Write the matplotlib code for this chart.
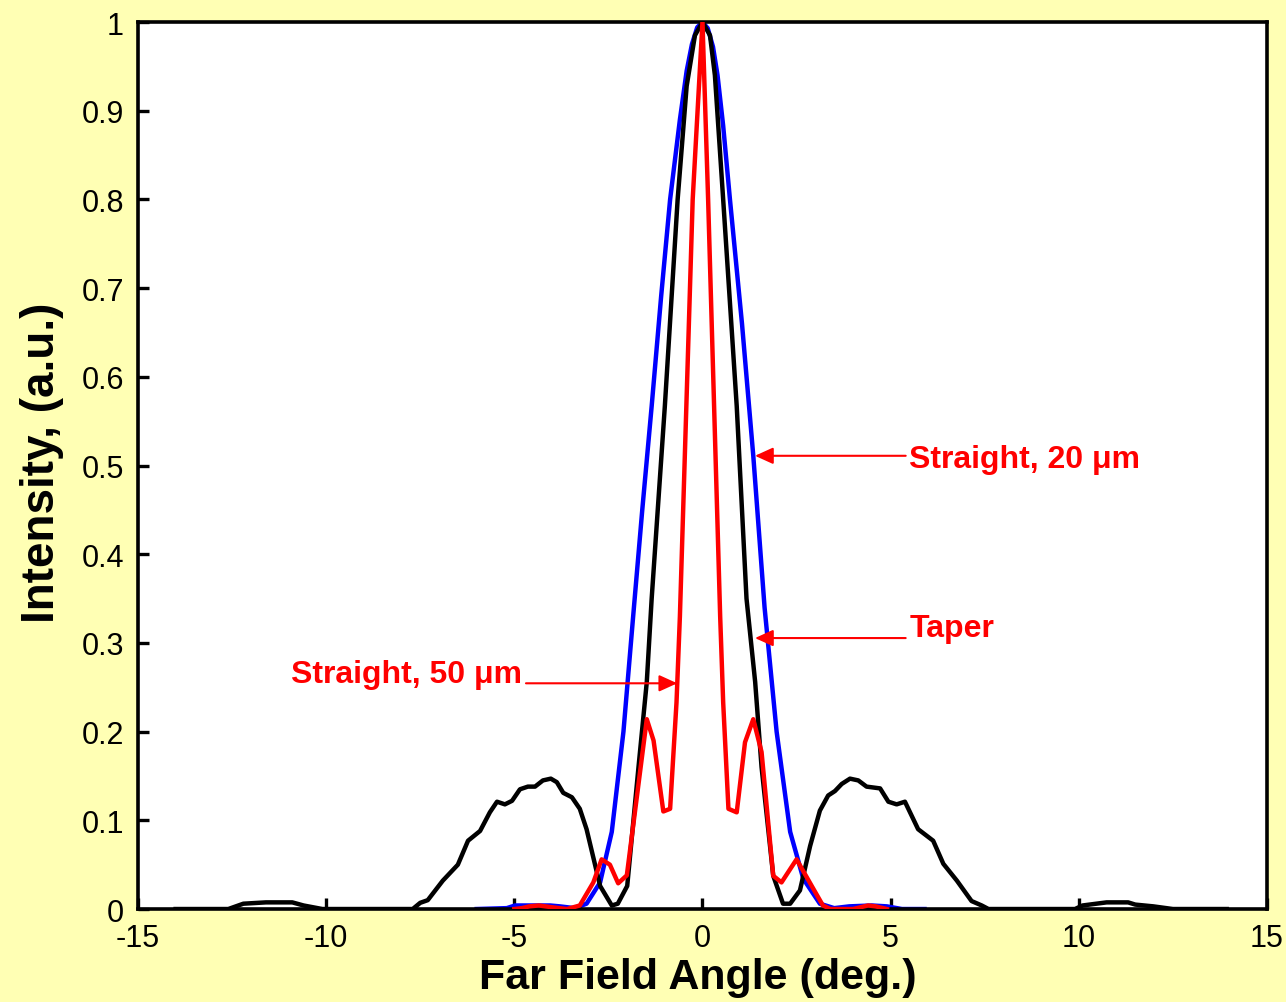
import matplotlib
matplotlib.use("Agg")
import matplotlib.pyplot as plt

plt.rcParams["font.family"] = ["Liberation Sans", "DejaVu Sans"]

BG = "#FFFFB4"
RED = "#FF0000"

# Taper (black)
taper_x = [-14.0, -12.6, -12.2, -11.6, -10.9, -10.6, -10.1, -7.7, -7.5, -7.3,
           -6.9, -6.5, -6.23, -5.91, -5.65, -5.46, -5.25, -5.06, -4.85, -4.64,
           -4.45, -4.24, -4.03, -3.87, -3.7, -3.47, -3.26, -3.08, -2.72, -2.41,
           -2.25, -2.0, -1.7, -1.48, -1.35, -1.0, -0.66, -0.42, -0.2, 0.0,
           0.2, 0.33, 0.55, 0.91, 1.17, 1.4, 1.57, 1.88, 2.14, 2.33,
           2.59, 2.86, 3.12, 3.34, 3.52, 3.70, 3.92, 4.14, 4.36, 4.72,
           4.94, 5.16, 5.38, 5.73, 6.13, 6.40, 6.76, 7.15, 7.42, 7.6,
           9.9, 10.1, 10.74, 11.31, 11.5, 11.98, 12.5, 13.93]
taper_y = [0.0, 0.0, 0.006, 0.0075, 0.0075, 0.004, 0.0, 0.0, 0.007, 0.01,
           0.032, 0.05, 0.077, 0.088, 0.109, 0.121, 0.118, 0.122, 0.135, 0.138,
           0.138, 0.145, 0.147, 0.143, 0.131, 0.126, 0.113, 0.09, 0.026, 0.004,
           0.006, 0.026, 0.16, 0.256, 0.35, 0.567, 0.80, 0.928, 0.985, 1.0,
           0.985, 0.94, 0.80, 0.567, 0.35, 0.256, 0.16, 0.0375, 0.006, 0.006,
           0.021, 0.071, 0.111, 0.128, 0.133, 0.141, 0.147, 0.145, 0.138, 0.136,
           0.121, 0.118, 0.121, 0.09, 0.077, 0.051, 0.032, 0.009, 0.004, 0.0,
           0.0, 0.004, 0.0075, 0.0075, 0.005, 0.003, 0.0, 0.0]

# Straight, 20 um (blue)
s20_x = [-6.0, -5.2, -4.98, -4.05, -3.79, -3.4, -3.08, -2.72, -2.41, -2.1,
         -1.84, -1.6, -1.35, -1.1, -0.86, -0.6, -0.42, -0.28, -0.14, 0.0,
         0.14, 0.28, 0.4, 0.55, 0.73, 1.05, 1.35, 1.65, 1.97, 2.33,
         2.68, 3.12, 3.5, 3.9, 4.5, 4.9, 5.3, 5.9]
s20_y = [0.0, 0.001, 0.004, 0.004, 0.003, 0.001, 0.006, 0.03, 0.087, 0.2,
         0.331, 0.45, 0.567, 0.69, 0.80, 0.89, 0.945, 0.975, 0.994, 1.0,
         0.993, 0.972, 0.94, 0.883, 0.80, 0.66, 0.511, 0.34, 0.2, 0.087,
         0.034, 0.006, 0.001, 0.003, 0.004, 0.003, 0.0, 0.0]

# Straight, 50 um (red)
s50_x = [-5.0, -4.8, -4.6, -4.35, -4.0, -3.6, -3.26, -2.9, -2.68, -2.46,
         -2.24, -2.01, -1.48, -1.3, -1.04, -0.86, -0.69, -0.6, -0.26, 0.0,
         0.15, 0.47, 0.55, 0.69, 0.91, 1.13, 1.35, 1.57, 1.88, 2.1,
         2.5, 2.95, 3.2, 3.4, 4.0, 4.2, 4.4, 4.6, 4.9]
s50_y = [0.0, 0.001, 0.003, 0.004, 0.002, 0.0, 0.004, 0.03, 0.056, 0.05,
         0.029, 0.038, 0.214, 0.19, 0.11, 0.113, 0.233, 0.33, 0.80, 1.0,
         0.80, 0.33, 0.233, 0.113, 0.109, 0.188, 0.214, 0.177, 0.0375, 0.03,
         0.056, 0.0225, 0.004, 0.0, 0.0, 0.002, 0.004, 0.003, 0.0]

xticks = [-15, -10, -5, 0, 5, 10, 15]
yticks = [0, 0.1, 0.2, 0.3, 0.4, 0.5, 0.6, 0.7, 0.8, 0.9, 1]
ytick_labels = ["0", "0.1", "0.2", "0.3", "0.4", "0.5", "0.6", "0.7", "0.8", "0.9", "1"]

fig = plt.figure(figsize=(12.86, 10.03), dpi=100, facecolor=BG)
ax = fig.add_axes([0.1073, 0.0927, 0.8779, 0.8843])
ax.set_facecolor("white")

ax.plot(taper_x, taper_y, color="black", lw=3.2, zorder=3)
ax.plot(s20_x, s20_y, color="#0000FF", lw=3.2, zorder=2)
ax.plot(s50_x, s50_y, color=RED, lw=3.2, zorder=4)

ax.set_xlim(-15, 15)
ax.set_ylim(0, 1)
ax.set_xticks(xticks)
ax.set_xticklabels([str(v) for v in xticks])
ax.set_yticks(yticks)
ax.set_yticklabels(ytick_labels)
ax.tick_params(direction="in", length=8, width=2.4, labelsize=22, pad=10,
               top=False, right=False)
for sp in ax.spines.values():
    sp.set_linewidth(2.6)

ax.set_xlabel("Far Field Angle (deg.)", fontsize=31, fontweight="bold", va="center")
ax.xaxis.set_label_coords(0.496, -0.0767)
ax.set_ylabel("Intensity, (a.u.)", fontsize=33, fontweight="bold", va="center")
ax.yaxis.set_label_coords(-0.085, 0.504)

arrow_kw = dict(arrowstyle="-|>,head_length=0.55,head_width=0.25",
                color=RED, lw=1.5, shrinkA=0, shrinkB=0, mutation_scale=20)

ax.annotate("", xy=(1.395, 0.511), xytext=(5.40, 0.511), arrowprops=arrow_kw)
ax.text(5.49, 0.4987, "Straight, 20 \u03bcm", color=RED, fontsize=23,
        fontweight="bold", ha="left", va="baseline")

ax.annotate("", xy=(1.395, 0.3055), xytext=(5.40, 0.3055), arrowprops=arrow_kw)
ax.text(5.51, 0.308, "Taper", color=RED, fontsize=23,
        fontweight="bold", ha="left", va="baseline")

ax.annotate("", xy=(-0.67, 0.2545), xytext=(-4.69, 0.2545), arrowprops=arrow_kw)
ax.text(-4.80, 0.256, "Straight, 50 \u03bcm", color=RED, fontsize=23,
        fontweight="bold", ha="right", va="baseline")

fig.savefig("out.png", dpi=100, facecolor=BG)
